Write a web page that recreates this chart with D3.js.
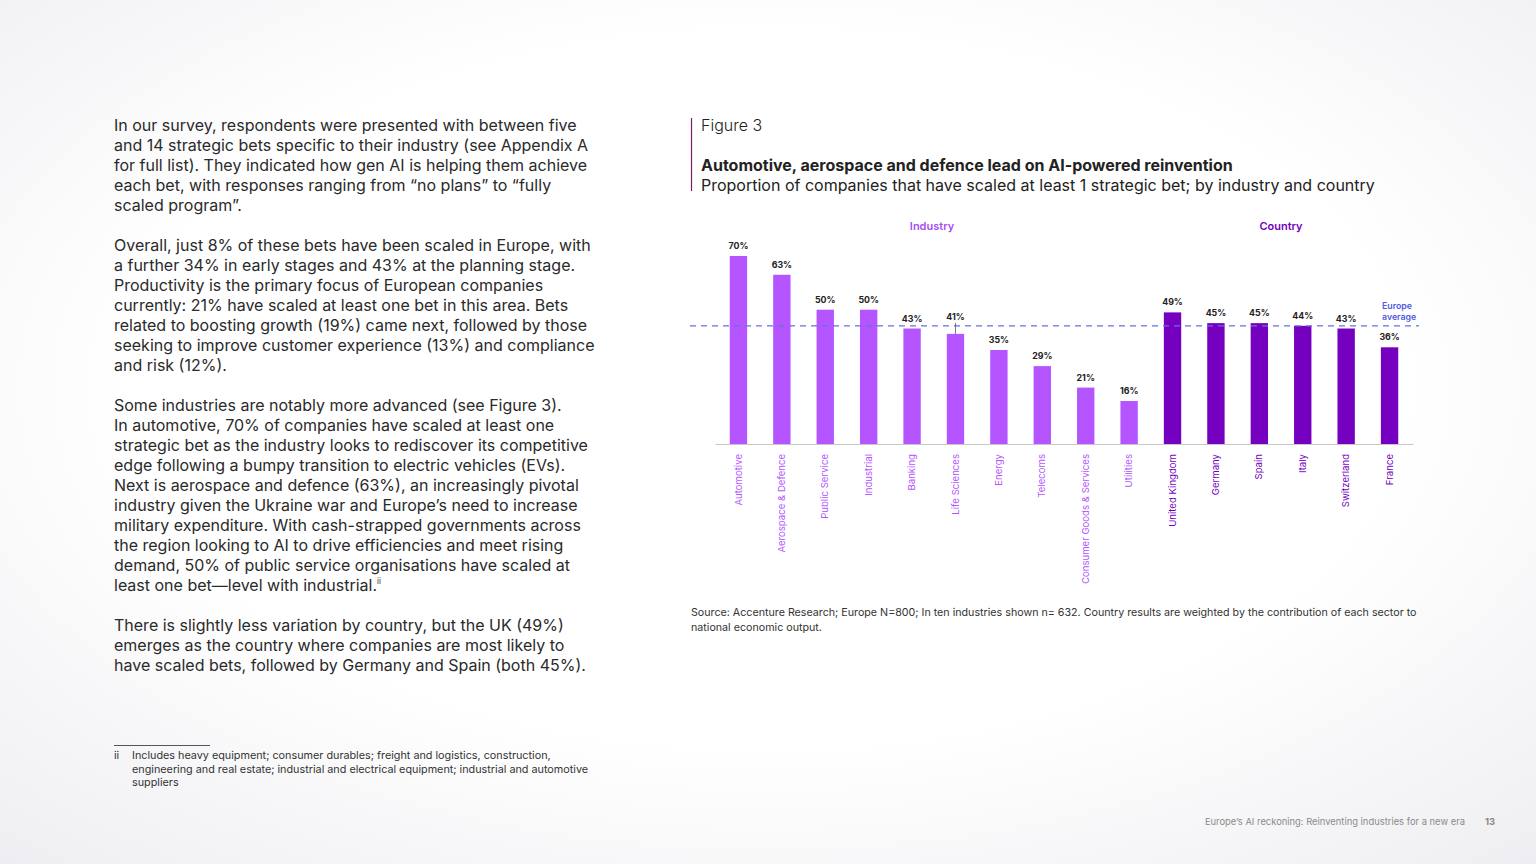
<!DOCTYPE html>
<html><head><meta charset="utf-8">
<script src="https://cdn.jsdelivr.net/npm/d3@7"></script>
<style>
html,body{margin:0;padding:0;background:#fff;}
svg{display:block;}
</style></head>
<body>
<svg id="c" width="1536" height="864"></svg>
<script>
const industries = ["Automotive","Aerospace & Defence","Public Service","Industrial","Banking","Life Sciences","Energy","Telecoms","Consumer Goods & Services","Utilities"];
const industryValues = [70,63,50,50,43,41,35,29,21,16];
const countries = ["United Kingdom","Germany","Spain","Italy","Switzerland","France"];
const countryValues = [49,45,45,44,43,36];
const europeAverage = 44;

const bodyText = [
 "In our survey, respondents were presented with between five",
 "and 14 strategic bets specific to their industry (see Appendix A",
 "for full list). They indicated how gen AI is helping them achieve",
 "each bet, with responses ranging from \u201cno plans\u201d to \u201cfully",
 "scaled program\u201d.",
 "",
 "Overall, just 8% of these bets have been scaled in Europe, with",
 "a further 34% in early stages and 43% at the planning stage.",
 "Productivity is the primary focus of European companies",
 "currently: 21% have scaled at least one bet in this area. Bets",
 "related to boosting growth (19%) came next, followed by those",
 "seeking to improve customer experience (13%) and compliance",
 "and risk (12%).",
 "",
 "Some industries are notably more advanced (see Figure 3).",
 "In automotive, 70% of companies have scaled at least one",
 "strategic bet as the industry looks to rediscover its competitive",
 "edge following a bumpy transition to electric vehicles (EVs).",
 "Next is aerospace and defence (63%), an increasingly pivotal",
 "industry given the Ukraine war and Europe\u2019s need to increase",
 "military expenditure. With cash-strapped governments across",
 "the region looking to AI to drive efficiencies and meet rising",
 "demand, 50% of public service organisations have scaled at",
 "least one bet\u2014level with industrial.",
 "",
 "There is slightly less variation by country, but the UK (49%)",
 "emerges as the country where companies are most likely to",
 "have scaled bets, followed by Germany and Spain (both 45%)."
];
const footnote = [
 "Includes heavy equipment; consumer durables; freight and logistics, construction,",
 "engineering and real estate; industrial and electrical equipment; industrial and automotive",
 "suppliers"
];
const sourceText = [
 "Source: Accenture Research; Europe N=800; In ten industries shown n= 632. Country results are weighted by the contribution of each sector to",
 "national economic output."
];

const FONT = "Inter, 'Open Sans', sans-serif";
const svg = d3.select("#c").style("font-family", FONT);

// background
const defs = svg.append("defs");
const rg = defs.append("radialGradient").attr("id","bg").attr("cx","0.5").attr("cy","0.45").attr("r","0.75");
rg.append("stop").attr("offset","0.55").attr("stop-color","#ffffff");
rg.append("stop").attr("offset","1").attr("stop-color","#eeeef2");
svg.append("rect").attr("width",1536).attr("height",864).attr("fill","url(#bg)");

// left body text
const bt = svg.append("g");
bodyText.forEach((t,i)=>{
  if(!t) return;
  const tx = bt.append("text").attr("x",114).attr("y",131+20*i)
    .attr("font-size",16).attr("fill","#2a2a2a").text(t);
  if(t.startsWith("least one bet")) {
    tx.append("tspan").attr("font-size",8).attr("dy",-7).text("ii");
  }
});

// footnote
svg.append("line").attr("x1",114).attr("x2",210).attr("y1",745.5).attr("y2",745.5).attr("stroke","#555").attr("stroke-width",1);
svg.append("text").attr("x",114).attr("y",759).attr("font-size",10.8).attr("fill","#333").text("ii");
footnote.forEach((t,i)=>svg.append("text").attr("x",132).attr("y",759+13.5*i).attr("font-size",10.8).attr("fill","#333").text(t));

// footer
svg.append("text").attr("x",1465).attr("y",825).attr("text-anchor","end").attr("font-size",9.4).attr("fill","#8a8a8a").text("Europe\u2019s AI reckoning: Reinventing industries for a new era");
svg.append("text").attr("x",1485).attr("y",825).attr("font-size",9.4).attr("font-weight",700).attr("fill","#8a8a8a").text("13");

// figure header
svg.append("line").attr("x1",691.5).attr("x2",691.5).attr("y1",118).attr("y2",191).attr("stroke","#7a1a6a").attr("stroke-width",1.2);
svg.append("text").attr("x",701).attr("y",131).attr("font-size",16).attr("font-weight",300).attr("fill","#222").text("Figure 3");
svg.append("text").attr("x",701).attr("y",171).attr("font-size",16).attr("font-weight",700).attr("fill","#222").text("Automotive, aerospace and defence lead on AI-powered reinvention");
svg.append("text").attr("x",701).attr("y",191).attr("font-size",16).attr("font-weight",400).attr("fill","#222").text("Proportion of companies that have scaled at least 1 strategic bet; by industry and country");

// chart
const cats = industries.concat(countries);
const vals = industryValues.concat(countryValues);
const data = cats.map((c,i)=>({cat:c, v:vals[i], country: i>=industries.length}));
const LIGHT = "#B455FF", DARK = "#7500C0";

const x = d3.scaleBand().domain(cats).range([715,1413]).paddingInner(0.6).paddingOuter(0.34);
const y = d3.scaleLinear().domain([0,100]).range([444,175.4]);

// group headers
svg.append("text").attr("x",932).attr("y",230).attr("text-anchor","middle").attr("font-size",11).attr("font-weight",600).attr("fill","#A94FF0").text("Industry");
svg.append("text").attr("x",1281).attr("y",230).attr("text-anchor","middle").attr("font-size",11).attr("font-weight",600).attr("fill",DARK).text("Country");

// bars
svg.append("g").selectAll("rect").data(data).join("rect")
  .attr("x",d=>x(d.cat)).attr("width",x.bandwidth())
  .attr("y",d=>y(d.v)).attr("height",d=>y(0)-y(d.v))
  .attr("fill",d=>d.country?DARK:LIGHT);

// baseline axis
const xAxis = d3.axisBottom(x).tickSize(0).tickPadding(0);
const ax = svg.append("g").attr("transform","translate(0,444)").call(xAxis);
ax.select(".domain").attr("stroke","#c8c8c8").attr("stroke-width",1);
ax.selectAll(".tick text")
  .attr("transform","rotate(-90)")
  .attr("text-anchor","end")
  .attr("x",-10).attr("y",0).attr("dy","0.32em")
  .attr("font-size",9.6).attr("font-family",FONT)
  .attr("fill",(d,i)=> i>=industries.length?DARK:LIGHT);

// average line
svg.append("line").attr("x1",690).attr("x2",1419).attr("y1",y(europeAverage)).attr("y2",y(europeAverage))
  .attr("stroke","#6670E0").attr("stroke-width",1.2).attr("stroke-dasharray","6,5");
svg.append("text").attr("x",1382).attr("y",309).attr("font-size",8.8).attr("font-weight",600).attr("fill","#4F5BE0").text("Europe");
svg.append("text").attr("x",1382).attr("y",320).attr("font-size",8.8).attr("font-weight",600).attr("fill","#4F5BE0").text("average");

// value labels
svg.append("g").selectAll("text").data(data).join("text")
  .attr("x",d=>x(d.cat)+x.bandwidth()/2)
  .attr("y",d=> d.cat==="Life Sciences" ? y(d.v)-14 : y(d.v)-7)
  .attr("text-anchor","middle").attr("font-size",8.8).attr("font-weight",700).attr("fill","#222")
  .text(d=>d.v+"%");
// leader for Life Sciences label
const ls = data.find(d=>d.cat==="Life Sciences");
svg.append("line").attr("x1",x(ls.cat)+x.bandwidth()/2).attr("x2",x(ls.cat)+x.bandwidth()/2)
  .attr("y1",y(ls.v)-11).attr("y2",y(ls.v)).attr("stroke","#555").attr("stroke-width",0.8);

// source
sourceText.forEach((t,i)=>svg.append("text").attr("x",691).attr("y",616+15*i).attr("font-size",10.7).attr("fill","#333").text(t));
</script>
</body></html>
